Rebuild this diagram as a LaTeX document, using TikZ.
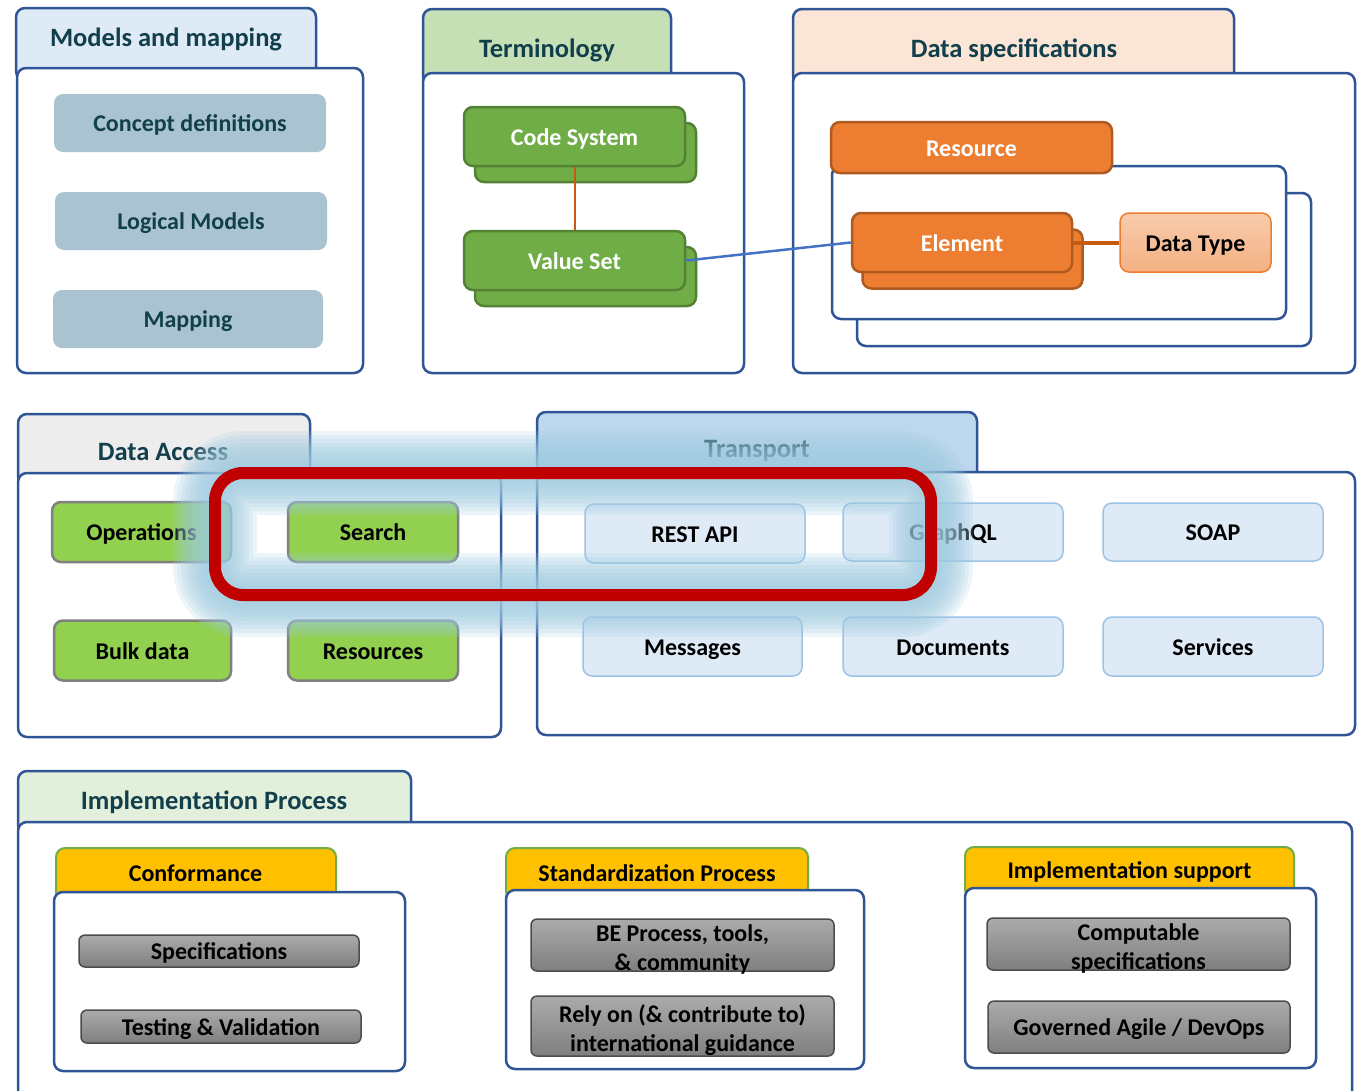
\documentclass[tikz,border=0pt]{standalone}
\usepackage{fontspec}
\setmainfont{Carlito}
\definecolor{frameblue}{HTML}{2F5597}
\definecolor{titletext}{HTML}{123F4C}
\definecolor{modeltab}{HTML}{DEEAF6}
\definecolor{modelfill}{HTML}{A9C4D0}
\definecolor{termtab}{HTML}{C5E0B4}
\definecolor{termfill}{HTML}{70AD47}
\definecolor{termline}{HTML}{548235}
\definecolor{spectab}{HTML}{FBE5D6}
\definecolor{orangefill}{HTML}{ED7D31}
\definecolor{orangeline}{HTML}{AE5A21}
\definecolor{linkbrown}{HTML}{C55A11}
\definecolor{linkblue}{HTML}{4472C4}
\definecolor{typetop}{HTML}{F8CBAD}
\definecolor{typebot}{HTML}{F4B183}
\definecolor{accesstab}{HTML}{EDEDED}
\definecolor{accessfill}{HTML}{92D050}
\definecolor{transtab}{HTML}{BDD7EE}
\definecolor{transfill}{HTML}{DEEBF7}
\definecolor{transline}{HTML}{9DC3E6}
\definecolor{impltab}{HTML}{E2EFDA}
\definecolor{yellowtab}{HTML}{FFC000}
\definecolor{graytop}{HTML}{ABABAB}
\definecolor{graybot}{HTML}{7F7F7F}
\definecolor{glowblue}{HTML}{9ECBE0}
\definecolor{focusred}{HTML}{C00000}
\tikzset{panel/.style={draw=frameblue, line width=2.5pt, fill=white, rounded corners=9pt}, % white body of a group
tab/.style={panel, fill=#1}, % coloured tab above a body, hidden at the bottom
subtab/.style={tab=yellowtab, draw=termfill, line width=2pt}, % yellow tabs in the lower group
title/.style={text=titletext, font=\bfseries\fontsize{26.5}{30}\selectfont}, % names of the groups
subtitle/.style={font=\bfseries\fontsize{24}{29}\selectfont}, % names on the yellow tabs
item/.style={rounded corners=9pt, inner sep=0pt, align=center, font=\bfseries\fontsize{24}{29}\selectfont}, % every box with text
oneline/.style={text height=21pt, text depth=4pt}, % same baseline for one line of text
twolines/.style={text height=51pt, text depth=0pt}, % pushes two lines a bit down
model/.style={item, oneline, fill=modelfill, text=titletext, minimum width=272pt, minimum height=58pt},
term/.style={item, oneline, fill=termfill, draw=termline, line width=2.5pt, text=white, minimum width=221pt, minimum height=59pt},
orangebox/.style={item, oneline, fill=orangefill, draw=orangeline, line width=2.5pt, text=white, minimum width=220pt, minimum height=59pt},
access/.style={item, oneline, fill=accessfill, draw=gray, line width=2.5pt, minimum height=60pt},
trans/.style={item, oneline, fill=transfill, draw=transline, line width=1.5pt, minimum width=220pt, minimum height=59pt},
greybox/.style={item, rounded corners=6pt, top color=graytop, bottom color=graybot, draw=black!70, line width=1.5pt, minimum width=303pt, minimum height=52pt},
}
\begin{document}
\begin{tikzpicture}[x=1pt, y=-1pt]
\useasboundingbox (0,0) rectangle (1362,1090);
\clip (0,0) rectangle (1362,1090);
% models and mapping
\draw[tab=modeltab] (16,8) rectangle (316,80);
\draw[panel] (17,68) rectangle (363,373);
\node[title] (modelstitle) at (166,39) {Models and mapping};
\node[model] (concept) at (190,123) {Concept definitions};
\node[model] (logical) at (191,221) {Logical Models};
\node[model, minimum width=270pt] (mapping) at (188,319) {Mapping};
% terminology
\draw[tab=termtab] (423,9) rectangle (671,85);
\draw[panel] (423,73) rectangle (744,373);
\node[title] (termtitle) at (547,50) {Terminology};
\node[term] (codeback) at (585.5,152.5) {};
\node[term] (code) at (574.5,136.5) {Code System};
\node[term] (valueback) at (585.5,276.5) {};
\node[term] (value) at (574.5,260.5) {Value Set};
% data specifications
\draw[tab=spectab] (793,9) rectangle (1234,85);
\draw[panel] (793,73) rectangle (1355,373);
\node[title] (spectitle) at (1014,50) {Data specifications};
\draw[panel] (857,193) rectangle (1311,346);
\draw[panel] (832,166) rectangle (1286,319);
\node[orangebox, minimum width=281pt, minimum height=51pt] (resource) at (971.5,147.5) {Resource};
\node[orangebox] (elementback) at (972.5,259) {};
\node[orangebox] (element) at (962,242.5) {Element};
\node[item, oneline, top color=typetop, bottom color=typebot, draw=orangefill, line width=1.5pt, minimum width=151pt, minimum height=59pt] (datatype) at (1195.5,242.5) {Data Type};
\draw[linkbrown, line width=2pt] (code) -- (value);
\draw[linkbrown, line width=4pt] (element) -- (datatype);
\draw[linkblue, line width=2.5pt] (value.east) -- (element.west);
% data access
\draw[tab=accesstab] (18,414) rectangle (310,485);
\draw[panel] (18,473) rectangle (501,737);
\node[title] (accesstitle) at (163,452) {Data Access};
\node[access, minimum width=179pt] (operations) at (141.5,532) {Operations};
\node[access, minimum width=170pt] (search) at (373,532) {Search};
\node[access, minimum width=177pt] (bulk) at (142.5,650.5) {Bulk data};
\node[access, minimum width=170pt] (resources) at (373,650.5) {Resources};
% transport
\draw[tab=transtab] (537,412) rectangle (977,484);
\draw[panel] (537,472) rectangle (1355,735);
\node[title] (transtitle) at (757,451) {Transport};
\node[trans] (rest) at (695,533.5) {REST API};
\node[trans, minimum height=58pt] (graphql) at (953,532) {GraphQL};
\node[trans, minimum height=58pt] (soap) at (1213,532) {SOAP};
\node[trans, minimum width=219pt] (messages) at (692.5,646.5) {Messages};
\node[trans] (documents) at (953,646.5) {Documents};
\node[trans] (services) at (1213,646.5) {Services};
% implementation process
\draw[tab=impltab] (18,771) rectangle (411,834);
\draw[panel] (18,822) rectangle (1352,1120);
\node[title] (impltitle) at (214,802) {Implementation Process};
\draw[subtab] (56,848) rectangle (336,902);
\draw[panel] (54,892) rectangle (405,1071);
\node[subtitle] (conftitle) at (195.5,873) {Conformance};
\node[greybox, oneline, minimum width=280pt, minimum height=32pt] (specs) at (219,951) {Specifications};
\node[greybox, oneline, minimum width=280pt, minimum height=33pt] (testing) at (221,1026.5) {Testing \& Validation};
\draw[subtab] (506,848) rectangle (808,900);
\draw[panel] (506,890) rectangle (864,1069);
\node[subtitle] (stdtitle) at (657,873) {Standardization Process};
\node[greybox, twolines] (beprocess) at (682.5,945) {BE Process, tools,\\\& community};
\node[greybox, twolines, minimum height=60pt] (rely) at (682.5,1026) {Rely on (\& contribute to)\\international guidance};
\draw[subtab] (965,847) rectangle (1294,898);
\draw[panel] (965,888) rectangle (1316,1068);
\node[subtitle] (suptitle) at (1129.5,872) {Implementation support};
\node[greybox, twolines] (computable) at (1138.5,944) {Computable\\specifications};
\node[greybox, oneline, minimum width=302pt] (governed) at (1139,1027) {Governed Agile / DevOps};
% glow and red frame round the focus
\foreach \w in {84,76,...,4}
  \draw[glowblue, opacity=0.19, line width=\w pt, rounded corners=28pt] (215,473) rectangle (931,595);
\draw[focusred, line width=12pt, rounded corners=28pt] (215,473) rectangle (931,595);
\end{tikzpicture}
\end{document}
